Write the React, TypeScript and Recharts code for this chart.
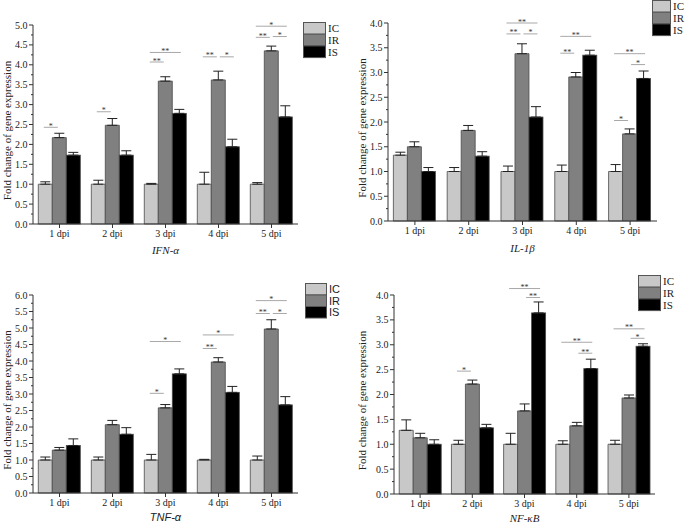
import { BarChart, Bar, XAxis, YAxis, ErrorBar } from 'recharts'

const SERIF = '"Liberation Serif", "Times New Roman", serif'
const SANS = '"Liberation Sans", Arial, sans-serif'

const DPI = ['1 dpi', '2 dpi', '3 dpi', '4 dpi', '5 dpi']

// IFN-α
const IFN_IC = [1.0, 1.0, 1.0, 1.0, 1.0]
const IFN_IC_ERR = [0.06, 0.1, 0.02, 0.3, 0.04]
const IFN_IR = [2.17, 2.48, 3.59, 3.62, 4.35]
const IFN_IR_ERR = [0.11, 0.17, 0.11, 0.22, 0.12]
const IFN_IS = [1.73, 1.73, 2.78, 1.94, 2.69]
const IFN_IS_ERR = [0.07, 0.11, 0.1, 0.19, 0.28]
const IFN_TICKS = [0, 0.5, 1.0, 1.5, 2.0, 2.5, 3.0, 3.5, 4.0, 4.5, 5.0]

// IL-1β
const IL_IC = [1.33, 1.0, 1.0, 1.0, 1.0]
const IL_IC_ERR = [0.06, 0.08, 0.11, 0.13, 0.14]
const IL_IR = [1.5, 1.83, 3.38, 2.91, 1.76]
const IL_IR_ERR = [0.1, 0.1, 0.2, 0.09, 0.1]
const IL_IS = [1.0, 1.31, 2.1, 3.35, 2.88]
const IL_IS_ERR = [0.08, 0.09, 0.21, 0.1, 0.15]
const IL_TICKS = [0, 0.5, 1.0, 1.5, 2.0, 2.5, 3.0, 3.5, 4.0]

// TNF-α
const TNF_IC = [1.0, 1.0, 1.0, 1.0, 1.0]
const TNF_IC_ERR = [0.09, 0.09, 0.17, 0.02, 0.12]
const TNF_IR = [1.3, 2.07, 2.58, 3.97, 4.97]
const TNF_IR_ERR = [0.08, 0.13, 0.1, 0.13, 0.28]
const TNF_IS = [1.44, 1.78, 3.61, 3.05, 2.67]
const TNF_IS_ERR = [0.2, 0.2, 0.15, 0.18, 0.25]
const TNF_TICKS = [0, 0.5, 1.0, 1.5, 2.0, 2.5, 3.0, 3.5, 4.0, 4.5, 5.0, 5.5, 6.0]

// NF-κB
const NF_IC = [1.28, 1.0, 1.0, 1.0, 1.0]
const NF_IC_ERR = [0.21, 0.08, 0.22, 0.07, 0.08]
const NF_IR = [1.13, 2.21, 1.67, 1.37, 1.93]
const NF_IR_ERR = [0.09, 0.08, 0.14, 0.07, 0.06]
const NF_IS = [1.0, 1.33, 3.64, 2.52, 2.97]
const NF_IS_ERR = [0.09, 0.07, 0.22, 0.19, 0.05]
const NF_TICKS = [0, 0.5, 1.0, 1.5, 2.0, 2.5, 3.0, 3.5, 4.0]

type Group = 'IC' | 'IR' | 'IS'
interface Sig { dpi: string; from: Group; to: Group; y: number; mark: string }

// significance brackets (y in data units)
const IFN_SIG: Sig[] = [
  { dpi: '1 dpi', from: 'IC', to: 'IR', y: 2.43, mark: '*' },
  { dpi: '2 dpi', from: 'IC', to: 'IR', y: 2.82, mark: '*' },
  { dpi: '3 dpi', from: 'IC', to: 'IR', y: 4.07, mark: '**' },
  { dpi: '3 dpi', from: 'IC', to: 'IS', y: 4.31, mark: '**' },
  { dpi: '4 dpi', from: 'IC', to: 'IR', y: 4.2, mark: '**' },
  { dpi: '4 dpi', from: 'IR', to: 'IS', y: 4.2, mark: '*' },
  { dpi: '5 dpi', from: 'IC', to: 'IR', y: 4.69, mark: '**' },
  { dpi: '5 dpi', from: 'IR', to: 'IS', y: 4.71, mark: '*' },
  { dpi: '5 dpi', from: 'IC', to: 'IS', y: 4.97, mark: '*' },
]
const IL_SIG: Sig[] = [
  { dpi: '3 dpi', from: 'IC', to: 'IS', y: 4.0, mark: '**' },
  { dpi: '3 dpi', from: 'IC', to: 'IR', y: 3.78, mark: '**' },
  { dpi: '3 dpi', from: 'IR', to: 'IS', y: 3.78, mark: '*' },
  { dpi: '4 dpi', from: 'IC', to: 'IS', y: 3.73, mark: '**' },
  { dpi: '4 dpi', from: 'IC', to: 'IR', y: 3.39, mark: '**' },
  { dpi: '5 dpi', from: 'IC', to: 'IS', y: 3.38, mark: '**' },
  { dpi: '5 dpi', from: 'IR', to: 'IS', y: 3.16, mark: '*' },
  { dpi: '5 dpi', from: 'IC', to: 'IR', y: 2.03, mark: '*' },
]
const TNF_SIG: Sig[] = [
  { dpi: '3 dpi', from: 'IC', to: 'IS', y: 4.59, mark: '*' },
  { dpi: '3 dpi', from: 'IC', to: 'IR', y: 3.02, mark: '*' },
  { dpi: '4 dpi', from: 'IC', to: 'IS', y: 4.79, mark: '*' },
  { dpi: '4 dpi', from: 'IC', to: 'IR', y: 4.38, mark: '**' },
  { dpi: '5 dpi', from: 'IC', to: 'IS', y: 5.83, mark: '*' },
  { dpi: '5 dpi', from: 'IC', to: 'IR', y: 5.44, mark: '**' },
  { dpi: '5 dpi', from: 'IR', to: 'IS', y: 5.44, mark: '*' },
]
const NF_SIG: Sig[] = [
  { dpi: '2 dpi', from: 'IC', to: 'IR', y: 2.47, mark: '*' },
  { dpi: '3 dpi', from: 'IC', to: 'IS', y: 4.13, mark: '**' },
  { dpi: '3 dpi', from: 'IR', to: 'IS', y: 3.95, mark: '**' },
  { dpi: '4 dpi', from: 'IC', to: 'IS', y: 3.05, mark: '**' },
  { dpi: '4 dpi', from: 'IR', to: 'IS', y: 2.83, mark: '**' },
  { dpi: '5 dpi', from: 'IC', to: 'IS', y: 3.32, mark: '**' },
  { dpi: '5 dpi', from: 'IR', to: 'IS', y: 3.13, mark: '*' },
]

const COLORS: Record<Group, string> = { IC: '#c8c8c8', IR: '#808080', IS: '#000000' }
const BAR_STROKE = '#4a4a4a'
const AXIS = '#333'

function buildRows(ic: number[], icE: number[], ir: number[], irE: number[], is: number[], isE: number[]) {
  return DPI.map((dpi, i) => ({
    dpi,
    IC: ic[i],
    IR: ir[i],
    IS: is[i],
    icErr: [0, icE[i]],
    irErr: [0, irE[i]],
    isErr: [0, isE[i]],
  }))
}

// IS bar shape that also draws the significance brackets for its category
function sigShape(sig: Sig[]) {
  return (props: any) => {
    const { x, y, width, height, payload } = props
    const base = y + height
    const unit = payload.IS ? height / payload.IS : 0
    const c: Record<Group, number> = {
      IC: x + width / 2 - 2 * width,
      IR: x + width / 2 - width,
      IS: x + width / 2,
    }
    const list = sig.filter(s => s.dpi === payload.dpi)
    return (
      <g>
        <rect x={x} y={y} width={width} height={height} fill={COLORS.IS} stroke={BAR_STROKE} strokeWidth={0.8} />
        {list.map((s, i) => {
          const ly = base - s.y * unit
          const x1 = c[s.from] + (s.from === 'IR' ? 1.5 : -1.5)
          const x2 = c[s.to] + (s.to === 'IR' ? -1.5 : 1.5)
          return (
            <g key={i}>
              <line x1={x1} x2={x2} y1={ly} y2={ly} stroke="#a8a8a8" strokeWidth={1} />
              <text x={(x1 + x2) / 2} y={ly + 1.5} textAnchor="middle" fontSize={8} fontFamily={SERIF} fill="#333">
                {s.mark}
              </text>
            </g>
          )
        })}
      </g>
    )
  }
}

const YTick = (props: any) => {
  const { x, y, payload } = props
  const v = payload.value
  const major = Math.abs(v * 2 - Math.round(v * 2)) < 1e-6
  const ax = x + 6
  return (
    <g>
      <line x1={ax} x2={ax - (major ? 4 : 2)} y1={y} y2={y} stroke={AXIS} strokeWidth={1} />
      {major && (
        <text x={ax - 5.5} y={y} dy="0.35em" textAnchor="end" fontSize={10} fontFamily={SERIF} fill="#222">
          {v.toFixed(1)}
        </text>
      )}
    </g>
  )
}

interface PanelCfg {
  left: number
  top: number
  width: number
  height: number
  margin: { top: number; right: number; bottom: number; left: number }
  yWidth: number
  xHeight: number
  yLabelX: number
  xLabelDy: number
  title: string
  titleFont: string
  yMax: number
  ticks: number[]
  rows: ReturnType<typeof buildRows>
  sig: Sig[]
  legend: { x: number; y: number; w: number; h: number; font: string }
}

function Panel({ cfg }: { cfg: PanelCfg }) {
  const allTicks = cfg.ticks.flatMap((t, i) => (i === 0 ? [t] : [t - 0.25, t]))
  const lg = cfg.legend
  return (
    <div style={{ position: 'absolute', left: cfg.left, top: cfg.top, width: cfg.width, height: cfg.height }}>
      <BarChart width={cfg.width} height={cfg.height} data={cfg.rows} margin={cfg.margin} barCategoryGap="10%" barGap={0}>
        <XAxis
          dataKey="dpi"
          interval={0}
          height={cfg.xHeight}
          tickSize={4}
          axisLine={{ stroke: AXIS }}
          tickLine={{ stroke: AXIS }}
          tick={{ fontSize: 10, fontFamily: SERIF, fill: '#222' }}
          label={(p: any) => {
            const vb = p.viewBox
            return (
              <text x={vb.x + vb.width / 2} y={vb.y + cfg.xLabelDy} textAnchor="middle" fontSize={11} fontStyle="italic" fontFamily={cfg.titleFont} fill="#222">
                {cfg.title}
              </text>
            )
          }}
        />
        <YAxis
          domain={[0, cfg.yMax]}
          ticks={allTicks}
          interval={0}
          width={cfg.yWidth}
          tickSize={4}
          tickMargin={2}
          tickLine={false}
          axisLine={{ stroke: AXIS }}
          tick={<YTick />}
          label={(p: any) => {
            const vb = p.viewBox
            const cx = vb.x + cfg.yLabelX
            const cy = vb.y + vb.height / 2 + 6
            return (
              <text x={cx} y={cy} transform={`rotate(-90 ${cx} ${cy})`} textAnchor="middle" fontSize={11} fontFamily={SERIF} fill="#222">
                Fold change of gene expression
              </text>
            )
          }}
        />
        <Bar dataKey="IC" fill={COLORS.IC} stroke={BAR_STROKE} strokeWidth={0.8} isAnimationActive={false}>
          <ErrorBar dataKey="icErr" width={5} stroke="#222" strokeWidth={1} />
        </Bar>
        <Bar dataKey="IR" fill={COLORS.IR} stroke={BAR_STROKE} strokeWidth={0.8} isAnimationActive={false}>
          <ErrorBar dataKey="irErr" width={5} stroke="#222" strokeWidth={1} />
        </Bar>
        <Bar dataKey="IS" fill={COLORS.IS} shape={sigShape(cfg.sig)} isAnimationActive={false}>
          <ErrorBar dataKey="isErr" width={5} stroke="#222" strokeWidth={1} />
        </Bar>
      </BarChart>
      <svg style={{ position: 'absolute', left: lg.x, top: lg.y, overflow: 'visible' }} width={lg.w + 20} height={lg.h * 3 + 2}>
        {(['IC', 'IR', 'IS'] as Group[]).map((g, i) => (
          <g key={g}>
            <rect x={0.5} y={0.5 + i * lg.h} width={lg.w} height={lg.h} fill={COLORS[g]} stroke="#555" strokeWidth={1} />
            <text x={lg.w + 3} y={i * lg.h + lg.h / 2 + 0.5} dy="0.35em" fontSize={11} fontFamily={lg.font} fill="#222">
              {g}
            </text>
          </g>
        ))}
      </svg>
    </div>
  )
}

const PANELS: PanelCfg[] = [
  {
    left: 0, top: 0, width: 345, height: 263,
    margin: { top: 25, right: 47, bottom: 0, left: 0 },
    yWidth: 33, xHeight: 39, yLabelX: 11, xLabelDy: 29.5,
    title: 'IFN-α', titleFont: SERIF, yMax: 5, ticks: IFN_TICKS,
    rows: buildRows(IFN_IC, IFN_IC_ERR, IFN_IR, IFN_IR_ERR, IFN_IS, IFN_IS_ERR),
    sig: IFN_SIG,
    legend: { x: 303, y: 22, w: 22, h: 11.7, font: SERIF },
  },
  {
    left: 345, top: 0, width: 340, height: 263,
    margin: { top: 23, right: 28, bottom: 0, left: 0 },
    yWidth: 43, xHeight: 42, yLabelX: 21, xLabelDy: 30.5,
    title: 'IL-1β', titleFont: SERIF, yMax: 4, ticks: IL_TICKS,
    rows: buildRows(IL_IC, IL_IC_ERR, IL_IR, IL_IR_ERR, IL_IS, IL_IS_ERR),
    sig: IL_SIG,
    legend: { x: 307, y: 0, w: 18, h: 11.7, font: SERIF },
  },
  {
    left: 0, top: 260, width: 345, height: 266,
    margin: { top: 35, right: 47, bottom: 0, left: 0 },
    yWidth: 33, xHeight: 33, yLabelX: 11, xLabelDy: 27.5,
    title: 'TNF-α', titleFont: SANS, yMax: 6, ticks: TNF_TICKS,
    rows: buildRows(TNF_IC, TNF_IC_ERR, TNF_IR, TNF_IR_ERR, TNF_IS, TNF_IS_ERR),
    sig: TNF_SIG,
    legend: { x: 305, y: 23, w: 21, h: 11.5, font: SANS },
  },
  {
    left: 345, top: 260, width: 340, height: 266,
    margin: { top: 35, right: 30, bottom: 0, left: 0 },
    yWidth: 49, xHeight: 32, yLabelX: 21, xLabelDy: 27.5,
    title: 'NF-κB', titleFont: SERIF, yMax: 4, ticks: NF_TICKS,
    rows: buildRows(NF_IC, NF_IC_ERR, NF_IR, NF_IR_ERR, NF_IS, NF_IS_ERR),
    sig: NF_SIG,
    legend: { x: 293, y: 15, w: 22, h: 11.7, font: SERIF },
  },
]

export default function App() {
  return (
    <div style={{ position: 'absolute', left: 0, top: 0, width: 685, height: 526, background: '#fff', overflow: 'hidden' }}>
      {PANELS.map((p, i) => (
        <Panel key={i} cfg={p} />
      ))}
    </div>
  )
}
